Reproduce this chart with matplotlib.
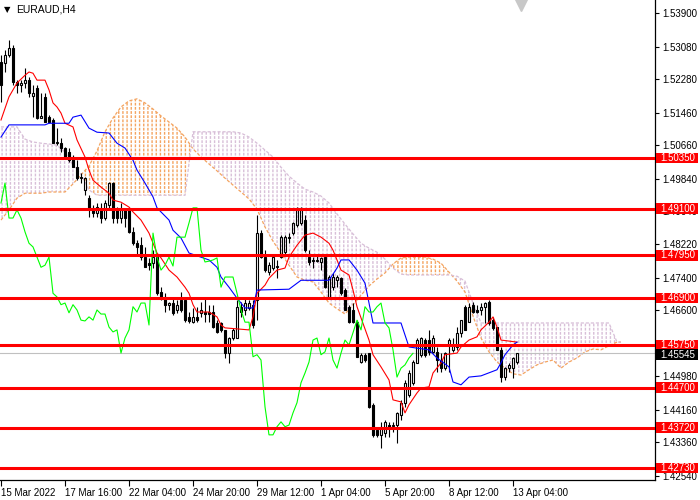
import matplotlib
matplotlib.use('Agg')
import matplotlib.pyplot as plt
import matplotlib.transforms as mtransforms
from matplotlib.patches import Rectangle
import numpy as np

plt.rcParams['font.family'] = ['Liberation Sans', 'DejaVu Sans']
plt.rcParams['hatch.linewidth'] = 1.0

symbol = 'EURAUD,H4'

# H4 candles
opens = [1.5270, 1.5268, 1.5288, 1.5305, 1.5221, 1.5214, 1.5219, 1.5226, 1.5187, 1.5207,
         1.5133, 1.5185, 1.5135, 1.5128, 1.5071, 1.5071, 1.5059, 1.5049, 1.5037, 1.5012,
         1.4985, 1.4956, 1.4936, 1.4912, 1.4899, 1.4912, 1.4887, 1.4919, 1.4973, 1.4907,
         1.4887, 1.4907, 1.4907, 1.4853, 1.4825, 1.4820, 1.4791, 1.4776, 1.4776, 1.4791,
         1.4705, 1.4693, 1.4674, 1.4678, 1.4661, 1.4686, 1.4686, 1.4644, 1.4631, 1.4644,
         1.4654, 1.4656, 1.4656, 1.4656, 1.4629, 1.4629, 1.4612, 1.4555, 1.4592, 1.4592,
         1.4669, 1.4661, 1.4666, 1.4674, 1.4686, 1.4850, 1.4791, 1.4754, 1.4764, 1.4766,
         1.4791, 1.4803, 1.4838, 1.4850, 1.4870, 1.4875, 1.4882, 1.4791, 1.4784, 1.4781,
         1.4779, 1.4791, 1.4693, 1.4717, 1.4734, 1.4739, 1.4710, 1.4669, 1.4661, 1.4631,
         1.4533, 1.4551, 1.4555, 1.4428, 1.4366, 1.4354, 1.4359, 1.4378, 1.4376, 1.4378,
         1.4403, 1.4433, 1.4452, 1.4482, 1.4531, 1.4551, 1.4587, 1.4587, 1.4558, 1.4558,
         1.4538, 1.4518, 1.4575, 1.4563, 1.4570, 1.4605, 1.4669, 1.4631, 1.4674, 1.4661,
         1.4661, 1.4669, 1.4681, 1.4636, 1.4619, 1.4563, 1.4496, 1.4518, 1.4518, 1.4533]
highs = [1.5288, 1.5300, 1.5325, 1.5312, 1.5226, 1.5226, 1.5256, 1.5234, 1.5214, 1.5214,
         1.5194, 1.5194, 1.5140, 1.5133, 1.5108, 1.5083, 1.5061, 1.5059, 1.5042, 1.5029,
         1.4997, 1.4987, 1.4943, 1.4919, 1.4924, 1.4924, 1.4931, 1.4975, 1.4975, 1.4914,
         1.4924, 1.4907, 1.4914, 1.4865, 1.4833, 1.4840, 1.4816, 1.4789, 1.4808, 1.4796,
         1.4717, 1.4702, 1.4681, 1.4693, 1.4686, 1.4705, 1.4693, 1.4656, 1.4666, 1.4669,
         1.4681, 1.4693, 1.4674, 1.4674, 1.4636, 1.4631, 1.4612, 1.4595, 1.4617, 1.4686,
         1.4681, 1.4693, 1.4686, 1.4686, 1.4894, 1.4857, 1.4808, 1.4779, 1.4796, 1.4784,
         1.4845, 1.4845, 1.4850, 1.4877, 1.4914, 1.4914, 1.4894, 1.4808, 1.4791, 1.4796,
         1.4791, 1.4796, 1.4747, 1.4752, 1.4747, 1.4742, 1.4715, 1.4674, 1.4678, 1.4636,
         1.4555, 1.4555, 1.4555, 1.4433, 1.4371, 1.4386, 1.4391, 1.4386, 1.4386, 1.4410,
         1.4440, 1.4489, 1.4514, 1.4538, 1.4592, 1.4595, 1.4592, 1.4612, 1.4600, 1.4570,
         1.4555, 1.4558, 1.4592, 1.4592, 1.4619, 1.4636, 1.4674, 1.4678, 1.4681, 1.4674,
         1.4678, 1.4681, 1.4686, 1.4644, 1.4619, 1.4570, 1.4521, 1.4531, 1.4546, 1.4555]
lows = [1.5172, 1.5246, 1.5283, 1.5214, 1.5194, 1.5197, 1.5207, 1.5185, 1.5135, 1.5130,
        1.5133, 1.5123, 1.5120, 1.5071, 1.5066, 1.5049, 1.5034, 1.5024, 1.5012, 1.4980,
        1.4973, 1.4943, 1.4889, 1.4889, 1.4889, 1.4875, 1.4882, 1.4912, 1.4875, 1.4875,
        1.4875, 1.4865, 1.4850, 1.4820, 1.4796, 1.4784, 1.4766, 1.4759, 1.4764, 1.4697,
        1.4686, 1.4656, 1.4661, 1.4649, 1.4654, 1.4656, 1.4631, 1.4629, 1.4629, 1.4631,
        1.4644, 1.4631, 1.4631, 1.4617, 1.4605, 1.4607, 1.4543, 1.4531, 1.4587, 1.4592,
        1.4644, 1.4649, 1.4661, 1.4617, 1.4636, 1.4789, 1.4754, 1.4747, 1.4759, 1.4739,
        1.4789, 1.4796, 1.4825, 1.4845, 1.4865, 1.4870, 1.4803, 1.4771, 1.4764, 1.4779,
        1.4759, 1.4715, 1.4690, 1.4710, 1.4717, 1.4697, 1.4661, 1.4629, 1.4629, 1.4546,
        1.4531, 1.4533, 1.4420, 1.4349, 1.4349, 1.4322, 1.4349, 1.4349, 1.4361, 1.4334,
        1.4391, 1.4423, 1.4447, 1.4477, 1.4531, 1.4546, 1.4546, 1.4551, 1.4555, 1.4509,
        1.4509, 1.4514, 1.4509, 1.4558, 1.4563, 1.4595, 1.4612, 1.4631, 1.4654, 1.4654,
        1.4649, 1.4629, 1.4624, 1.4612, 1.4563, 1.4484, 1.4489, 1.4509, 1.4494, 1.4528]
closes = [1.5214, 1.5288, 1.5305, 1.5221, 1.5214, 1.5219, 1.5226, 1.5194, 1.5194, 1.5133,
          1.5138, 1.5123, 1.5123, 1.5071, 1.5074, 1.5059, 1.5034, 1.5029, 1.5012, 1.4985,
          1.4987, 1.4985, 1.4912, 1.4899, 1.4914, 1.4887, 1.4924, 1.4973, 1.4887, 1.4887,
          1.4907, 1.4887, 1.4853, 1.4825, 1.4816, 1.4791, 1.4766, 1.4771, 1.4791, 1.4702,
          1.4693, 1.4674, 1.4678, 1.4654, 1.4674, 1.4661, 1.4636, 1.4634, 1.4644, 1.4636,
          1.4661, 1.4651, 1.4651, 1.4619, 1.4607, 1.4612, 1.4555, 1.4592, 1.4612, 1.4669,
          1.4656, 1.4678, 1.4678, 1.4624, 1.4850, 1.4791, 1.4759, 1.4771, 1.4791, 1.4769,
          1.4840, 1.4840, 1.4840, 1.4875, 1.4912, 1.4912, 1.4808, 1.4779, 1.4781, 1.4784,
          1.4789, 1.4717, 1.4742, 1.4742, 1.4742, 1.4702, 1.4661, 1.4631, 1.4631, 1.4546,
          1.4551, 1.4538, 1.4423, 1.4354, 1.4354, 1.4374, 1.4386, 1.4374, 1.4378, 1.4408,
          1.4433, 1.4482, 1.4506, 1.4533, 1.4587, 1.4592, 1.4551, 1.4558, 1.4592, 1.4538,
          1.4518, 1.4555, 1.4587, 1.4575, 1.4605, 1.4636, 1.4612, 1.4669, 1.4656, 1.4656,
          1.4669, 1.4678, 1.4629, 1.4617, 1.4563, 1.4496, 1.4518, 1.4526, 1.4543, 1.45545]

# Ichimoku lines, read as (bar, price) vertices
tenkan_bar = [0, 2, 4, 6, 7, 8, 9, 11, 12, 13, 14, 15, 16, 18, 19, 21, 22, 23, 25, 27,
              28, 30, 32, 33, 35, 37, 39, 40, 42, 44, 46, 47, 48, 49, 52, 54, 55, 56, 62, 63,
              64, 66, 67, 69, 71, 72, 74, 76, 78, 80, 82, 83, 84, 85, 87, 88, 89, 92, 93, 95,
              97, 98, 100, 101, 102, 104, 105, 107, 108, 110, 111, 114, 115, 117, 119, 120, 122, 123, 124, 125,
              129]
tenkan_val = [1.5128, 1.5185, 1.5219, 1.5238, 1.5246, 1.5243, 1.5226, 1.5226, 1.5202, 1.5170,
              1.5160, 1.5145, 1.5120, 1.5111, 1.5079, 1.5037, 1.5005, 1.4980, 1.4963, 1.4948,
              1.4931, 1.4926, 1.4914, 1.4902, 1.4882, 1.4850, 1.4801, 1.4789, 1.4759, 1.4742,
              1.4717, 1.4702, 1.4674, 1.4656, 1.4656, 1.4644, 1.4624, 1.4617, 1.4612, 1.4644,
              1.4702, 1.4722, 1.4739, 1.4759, 1.4764, 1.4791, 1.4820, 1.4845, 1.4850, 1.4840,
              1.4825, 1.4808, 1.4784, 1.4759, 1.4747, 1.4710, 1.4669, 1.4587, 1.4551, 1.4521,
              1.4489, 1.4440, 1.4435, 1.4408, 1.4428, 1.4457, 1.4469, 1.4472, 1.4506, 1.4531,
              1.4551, 1.4555, 1.4570, 1.4587, 1.4595, 1.4612, 1.4631, 1.4644, 1.4619, 1.4587,
              1.4582]
kijun_bar = [0, 2, 11, 12, 17, 18, 20, 22, 24, 27, 29, 31, 33, 34, 36, 38, 39, 42, 43, 45,
             47, 52, 54, 55, 57, 59, 61, 63, 64, 72, 75, 82, 84, 85, 87, 89, 91, 92, 93, 100,
             102, 107, 109, 112, 113, 115, 117, 120, 124, 125, 126, 128, 129]
kijun_val = [1.5086, 1.5116, 1.5116, 1.5120, 1.5120, 1.5135, 1.5140, 1.5108, 1.5098, 1.5096,
             1.5071, 1.5059, 1.5029, 1.5005, 1.4973, 1.4939, 1.4912, 1.4882, 1.4857, 1.4838,
             1.4801, 1.4784, 1.4766, 1.4742, 1.4717, 1.4690, 1.4666, 1.4666, 1.4710, 1.4712,
             1.4734, 1.4734, 1.4764, 1.4784, 1.4784, 1.4759, 1.4727, 1.4678, 1.4629, 1.4629,
             1.4570, 1.4563, 1.4543, 1.4521, 1.4484, 1.4477, 1.4496, 1.4499, 1.4514, 1.4531,
             1.4551, 1.4575, 1.4582]

# Senkou spans (already shifted 26 bars ahead), read every 2 bars
span_bar = list(range(0, 156, 2)) + [155]
span_a = [1.4882, 1.4907, 1.4936, 1.4948, 1.4948, 1.4948, 1.4951, 1.4951, 1.4951, 1.4971,
          1.4993, 1.5015, 1.5052, 1.5099, 1.5133, 1.5160, 1.5175, 1.5180, 1.5170, 1.5155,
          1.5138, 1.5123, 1.5108, 1.5086, 1.5057, 1.5037, 1.5020, 1.5003, 1.4985, 1.4968,
          1.4951, 1.4934, 1.4909, 1.4865, 1.4830, 1.4801, 1.4771, 1.4742, 1.4734, 1.4730,
          1.4705, 1.4678, 1.4664, 1.4651, 1.4674, 1.4697, 1.4720, 1.4737, 1.4752, 1.4774,
          1.4789, 1.4791, 1.4791, 1.4791, 1.4786, 1.4776, 1.4754, 1.4732, 1.4705, 1.4646,
          1.4592, 1.4558, 1.4533, 1.4518, 1.4504, 1.4501, 1.4514, 1.4526, 1.4533, 1.4538,
          1.4518, 1.4533, 1.4543, 1.4558, 1.4565, 1.4563, 1.4573, 1.4582, 1.4582]
span_b = [1.5111, 1.5111, 1.5111, 1.5081, 1.5074, 1.5071, 1.5069, 1.5066, 1.5049, 1.5017,
          1.4995, 1.4956, 1.4943, 1.4943, 1.4943, 1.4943, 1.4943, 1.4943, 1.4943, 1.4943,
          1.4943, 1.4943, 1.4943, 1.4943, 1.5099, 1.5099, 1.5099, 1.5099, 1.5099, 1.5099,
          1.5096, 1.5086, 1.5071, 1.5054, 1.5037, 1.5012, 1.4990, 1.4973, 1.4958, 1.4951,
          1.4941, 1.4924, 1.4897, 1.4872, 1.4848, 1.4825, 1.4813, 1.4803, 1.4786, 1.4764,
          1.4749, 1.4747, 1.4747, 1.4747, 1.4747, 1.4747, 1.4747, 1.4744, 1.4732, 1.4678,
          1.4629, 1.4629, 1.4629, 1.4629, 1.4629, 1.4629, 1.4629, 1.4629, 1.4629, 1.4629,
          1.4629, 1.4629, 1.4629, 1.4629, 1.4629, 1.4629, 1.4629, 1.4582, 1.4582]
chikou_shift = 26

levels = [1.50350, 1.49100, 1.47950, 1.46900, 1.45750, 1.44700, 1.43720, 1.42730]
bid = 1.45545
price_ticks = [1.53900, 1.53080, 1.52280, 1.51460, 1.50660, 1.49840, 1.49040, 1.48220,
               1.47400, 1.46600, 1.45780, 1.44980, 1.44160, 1.43360, 1.42540]
date_labels = ['15 Mar 2022', '17 Mar 16:00', '22 Mar 04:00', '24 Mar 20:00', '29 Mar 12:00',
               '1 Apr 04:00', '5 Apr 20:00', '8 Apr 12:00', '13 Apr 04:00']
bars_per_label = 16

o = np.array(opens)
h = np.array(highs)
l = np.array(lows)
c = np.array(closes)
x = np.arange(len(c))

fig = plt.figure(figsize=(7, 5), dpi=100)
ax = fig.add_axes([0, 20 / 500, 655 / 700, 480 / 500])
ax.set_xlim(-0.25, 163.5)
ax.set_ylim(1.4243, 1.5423)

# cloud: vertical dashed strokes between the two spans
sb = np.array(span_bar, dtype=float)
sa = np.array(span_a)
sbb = np.array(span_b)
ax.fill_between(sb, sa, sbb, where=sa >= sbb, interpolate=True, facecolor='none',
                edgecolor='#F4A460', hatch='||||', linewidth=0, zorder=1)
ax.fill_between(sb, sa, sbb, where=sa < sbb, interpolate=True, facecolor='none',
                edgecolor='#D8BFD8', hatch='||||', linewidth=0, zorder=1)
ax.fill_between(sb, sa, sbb, facecolor='none', edgecolor='white', hatch='----',
                linewidth=0, zorder=1.2)
ax.plot(sb, sa, color='#F4A460', lw=0.9, ls=(0, (2.5, 1.5)), zorder=1.3)
ax.plot(sb, sbb, color='#D8BFD8', lw=0.9, ls=(0, (2.5, 1.5)), zorder=1.3)

ax.axhline(bid, color='#C0C0C0', lw=0.8, zorder=2)

# candles (bull bodies hollow)
up = c >= o
top = np.maximum(o, c)
bot = np.minimum(o, c)
ax.vlines(x, top, h, color='black', lw=0.8, zorder=4)
ax.vlines(x, l, bot, color='black', lw=0.8, zorder=4)
ax.bar(x[up], np.maximum(top[up] - bot[up], 0.00004), bottom=bot[up], width=0.55,
       facecolor='none', edgecolor='black', linewidth=0.8, zorder=5)
ax.bar(x[~up], np.maximum(top[~up] - bot[~up], 0.00004), bottom=bot[~up], width=0.55,
       facecolor='black', edgecolor='black', linewidth=0.8, zorder=5)

# ichimoku lines
ax.plot(tenkan_bar, tenkan_val, color='#FF0000', lw=0.8, zorder=6)
ax.plot(kijun_bar, kijun_val, color='#0000FF', lw=0.8, zorder=6)
ax.plot(x[:-chikou_shift], c[chikou_shift:], color='#00FF00', lw=0.8, zorder=6)

# horizontal levels
for lv in levels:
    ax.axhline(lv, color='#FF0000', lw=2.2, zorder=7)

for side in ['top', 'left']:
    ax.spines[side].set_visible(False)
for side in ['right', 'bottom']:
    ax.spines[side].set_linewidth(0.9)
    ax.spines[side].set_color('black')

ax.yaxis.tick_right()
ax.set_yticks(price_ticks)
ax.set_yticklabels([f'{t:.5f}' for t in price_ticks])
ax.tick_params(axis='y', direction='out', length=3, width=0.8, labelsize=7, pad=2)

ax.set_xticks([k * bars_per_label for k in range(len(date_labels))])
ax.set_xticklabels(date_labels, ha='left')
ax.tick_params(axis='x', direction='out', length=4, width=0.8, labelsize=7, pad=2)

# price labels on the right
trans = mtransforms.blended_transform_factory(ax.transAxes, ax.transData)
box_h = 0.0026
for lv in levels:
    ax.add_patch(Rectangle((1.0015, lv - box_h / 2), 0.0635, box_h, transform=trans,
                           facecolor='#FF0000', edgecolor='none', clip_on=False, zorder=10))
    ax.text(1.0075, lv, f'{lv:.5f}', transform=trans, color='white', fontsize=7,
            va='center', ha='left', zorder=11, clip_on=False)
bid_lab = bid - 0.0003
ax.add_patch(Rectangle((1.0015, bid_lab - box_h / 2), 0.0635, box_h, transform=trans,
                       facecolor='black', edgecolor='none', clip_on=False, zorder=10))
ax.text(1.0075, bid_lab, f'{bid:.5f}', transform=trans, color='white', fontsize=7,
        va='center', ha='left', zorder=11, clip_on=False)

# chart shift marker
mtrans = mtransforms.blended_transform_factory(ax.transData, ax.transAxes)
ax.plot([len(c)], [1 - 5 / 480], marker='v', ms=9, color='#C8C8C8', mec='#C8C8C8',
        transform=mtrans, clip_on=False, zorder=9)

fig.text(4 / 700, 1 - 10 / 500, '\u25bc', fontsize=6, va='center', ha='left',
         family=['DejaVu Sans'])
fig.text(16 / 700, 1 - 10 / 500, symbol, fontsize=7.5, va='center', ha='left')

fig.savefig('out.png', dpi=100)
